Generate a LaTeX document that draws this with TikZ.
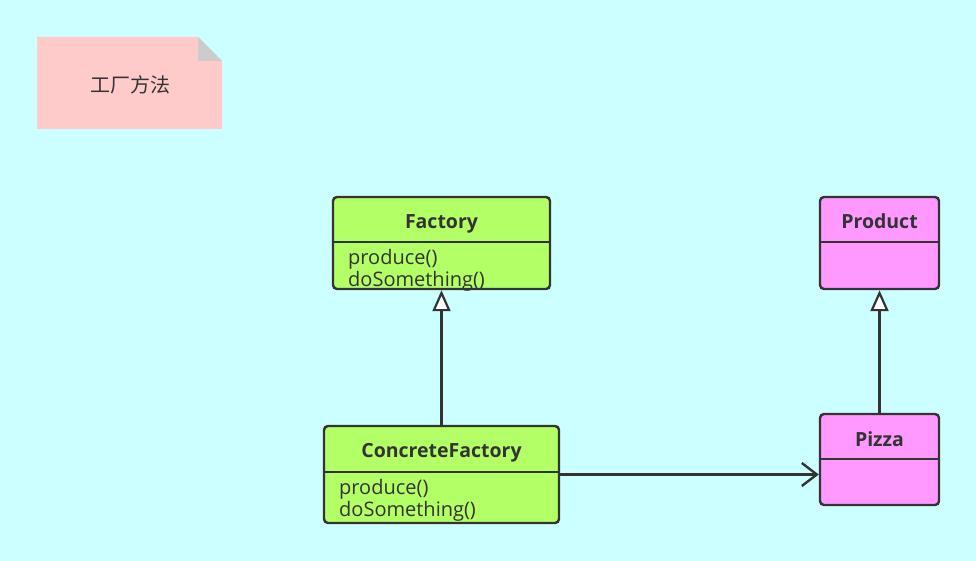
\documentclass[tikz,border=0pt]{standalone}
\usepackage{fontspec}
\setmainfont{Open Sans}
\newfontfamily\cjk{Noto Sans CJK SC}
\usetikzlibrary{arrows.meta,calc}
\definecolor{bgc}{HTML}{CCFFFF}
\definecolor{greenc}{HTML}{B3FF66}
\definecolor{pinkc}{HTML}{FF99FF}
\definecolor{notec}{HTML}{FFCACA}
\definecolor{foldc}{HTML}{CCCCCC}
\definecolor{inkc}{HTML}{333333}
\tikzset{
  classbox/.style={draw=inkc, line width=2.4pt, rounded corners=4pt, inner sep=0pt},
  titletext/.style={font=\fontsize{19.5}{22}\selectfont\bfseries, text=inkc, anchor=base, inner sep=0pt},
  methtext/.style={font=\fontsize{20}{22}\selectfont, text=inkc, anchor=base west, inner sep=0pt},
  divider/.style={draw=inkc, line width=2.4pt},
  inherit/.style={draw=inkc, line width=2.4pt, -{Triangle[open, length=21pt, width=18pt, line width=2.2pt, fill=white]}},
  assoc/.style={draw=inkc, line width=2.4pt, -{Straight Barb[length=15pt, width=23pt, line width=2.4pt]}},
}
\begin{document}
\begin{tikzpicture}[x=1pt, y=-1pt]
\useasboundingbox (0,0) rectangle (976,561);
\fill[bgc] (0,0) rectangle (976,561);
% note
\fill[notec] (37,37) -- (198,37) -- (222,61) -- (222,129) -- (37,129) -- cycle;
\fill[foldc] (198,37) -- (222,61) -- (198,61) -- cycle;
\node[font=\cjk\fontsize{20}{22}\selectfont, text=inkc] (note) at (130,85) {工厂方法};
% Factory
\node[classbox, fill=greenc, minimum width=217pt, minimum height=92pt] (f) at (441.5,243) {};
\draw[divider] (f.west |- 0,242) -- (f.east |- 0,242);
\node[titletext] (ft) at (441.5,229) {Factory};
\node[methtext] (fm1) at (348,264) {produce()};
\node[methtext] (fm2) at (348,286) {doSomething()};
% ConcreteFactory
\node[classbox, fill=greenc, minimum width=235pt, minimum height=97pt] (cf) at (441.5,474.5) {};
\draw[divider] (cf.west |- 0,472) -- (cf.east |- 0,472);
\node[titletext] (cft) at (441.5,457) {ConcreteFactory};
\node[methtext] (cfm1) at (339,494) {produce()};
\node[methtext] (cfm2) at (339,516) {doSomething()};
% Product
\node[classbox, fill=pinkc, minimum width=119pt, minimum height=92pt] (p) at (879.5,243) {};
\draw[divider] (p.west |- 0,242) -- (p.east |- 0,242);
\node[titletext] (pt) at (879.5,229) {Product};
% Pizza
\node[classbox, fill=pinkc, minimum width=119pt, minimum height=91pt] (pz) at (879.5,459.5) {};
\draw[divider] (pz.west |- 0,459) -- (pz.east |- 0,459);
\node[titletext] (pzt) at (879.5,446) {Pizza};
% connectors
\draw[inherit] (cf.north) -- (f.south);
\draw[inherit] (pz.north) -- (p.south);
\draw[assoc] (cf.east) -- (pz.west |- cf.east);
\end{tikzpicture}
\end{document}
